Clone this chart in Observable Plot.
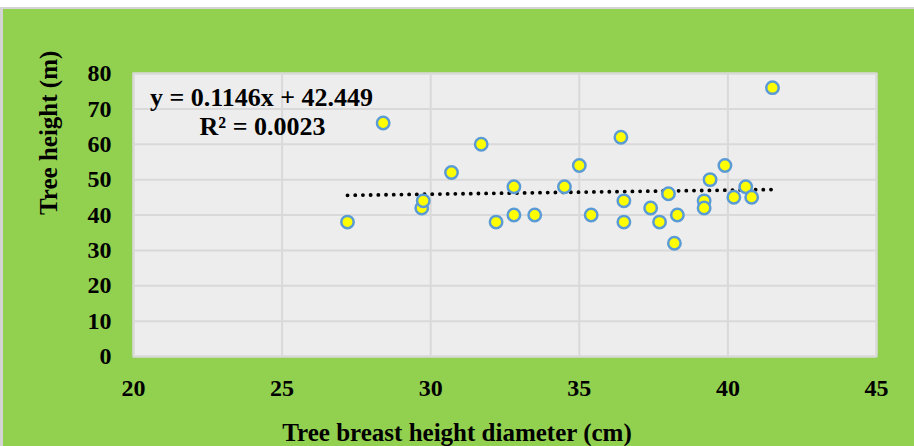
<!DOCTYPE html>
<html>
<head>
<meta charset="utf-8">
<script src="https://cdn.jsdelivr.net/npm/d3@7"></script>
<script src="https://cdn.jsdelivr.net/npm/@observablehq/plot@0.6"></script>
<style>
  html, body { margin: 0; padding: 0; background: #ffffff; }
  #wrap { padding-top: 7px; width: 914px; }
  #chart svg { display: block; border-top: 2px solid #d4d4d4; border-left: 3px solid #d4d4d4; background: #92d050; }
</style>
</head>
<body>
<div id="wrap"><div id="chart"></div></div>
<script>
// Tree breast height diameter (cm)
const diameter = [27.2, 28.4, 29.7, 29.75, 30.7, 31.7, 32.2, 32.8, 32.8, 33.5, 34.5, 35.0, 35.4, 36.4, 36.5, 36.5, 37.4, 37.7, 38.0, 38.2, 38.3, 39.2, 39.2, 39.4, 39.9, 40.2, 40.6, 40.8, 41.5];
// Tree height (m)
const heightM  = [38,   66,   42,   44,    52,   60,   38,   48,   40,   40,   48,   54,   40,   62,   44,   38,   42,   38,   46,   32,   40,   44,   42,   50,   54,   45,   48,   45,   76];
// Linear trend line endpoints (from the chart's trend equation)
const trendX = [27.2, 41.5];
const trendY = [45.57, 47.20];
const xTicks = [20, 25, 30, 35, 40, 45];
const yTicks = [0, 10, 20, 30, 40, 50, 60, 70, 80];
const eqLines = ["y = 0.1146x + 42.449", "R² = 0.0023"];
const xTitle = "Tree breast height diameter (cm)";
const yTitle = "Tree height (m)";

const points = diameter.map((d, i) => ({x: d, y: heightM[i]}));
const trend = trendX.map((d, i) => ({x: d, y: trendY[i]}));

const font = "Liberation Serif, Times New Roman, serif";

const chart = Plot.plot({
  width: 911,
  height: 437,
  marginLeft: 130,
  marginRight: 38,
  marginTop: 64,
  marginBottom: 90,
  style: {fontFamily: font, fontWeight: "bold", fontSize: "24px", color: "#000", background: "#92d050", overflow: "visible"},
  x: {domain: [20, 45], ticks: xTicks},
  y: {domain: [0, 80], ticks: yTicks},
  marks: [
    Plot.frame({fill: "#ededed", stroke: "#d9d9d9", strokeWidth: 2}),
    Plot.gridX(xTicks, {stroke: "#d9d9d9", strokeOpacity: 1, strokeWidth: 2}),
    Plot.gridY(yTicks, {stroke: "#d9d9d9", strokeOpacity: 1, strokeWidth: 2}),
    Plot.axisX(xTicks, {tickSize: 0, tickPadding: 22, label: null, fontSize: 24, fontWeight: "bold"}),
    Plot.axisY(yTicks, {tickSize: 0, tickPadding: 22, label: null, fontSize: 24, fontWeight: "bold"}),
    Plot.line(trend, {x: "x", y: "y", stroke: "#000", strokeWidth: 3.8, strokeDasharray: "0.1 7.6", strokeLinecap: "round"}),
    Plot.dot(points, {x: "x", y: "y", r: 6.2, fill: "#ffff00", stroke: "#5b9bd5", strokeWidth: 2.5}),
    Plot.text([eqLines[0]], {text: d => d, frameAnchor: "top-left", dx: 128, dy: 24, textAnchor: "middle", lineAnchor: "middle", fontSize: 26, fontWeight: "bold", fill: "#000"}),
    Plot.text([eqLines[1]], {text: d => d, frameAnchor: "top-left", dx: 129, dy: 53, textAnchor: "middle", lineAnchor: "middle", fontSize: 26, fontWeight: "bold", fill: "#000"}),
    Plot.text([xTitle], {text: d => d, frameAnchor: "bottom", dx: -48, dy: 76, lineAnchor: "middle", fontSize: 25, fontWeight: "bold", fill: "#000"}),
    Plot.text([yTitle], {text: d => d, frameAnchor: "left", dx: -85, rotate: -90, lineAnchor: "middle", fontSize: 25, fontWeight: "bold", fill: "#000"})
  ]
});
document.getElementById("chart").appendChild(chart);
</script>
</body>
</html>
